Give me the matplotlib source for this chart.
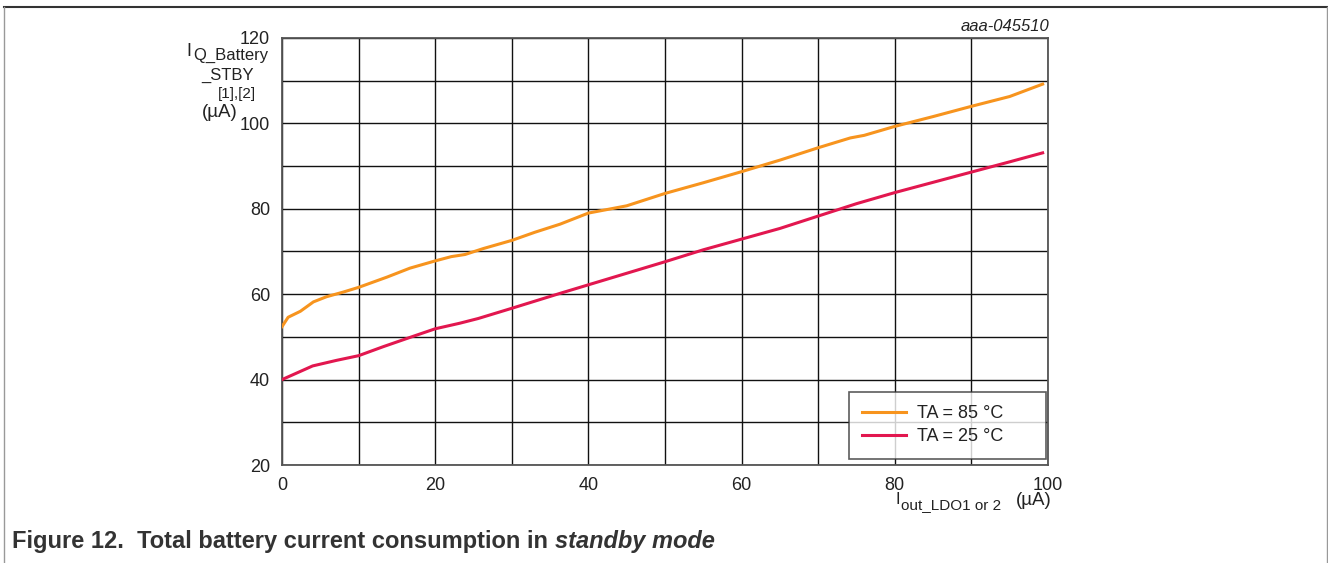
import matplotlib
matplotlib.use("Agg")
import matplotlib.pyplot as plt
from matplotlib.lines import Line2D

plt.rcParams['font.family'] = ['Liberation Sans', 'DejaVu Sans']

# standby current vs LDO output current, two temperatures
x_85 = [0, 0.8, 2.4, 4.1, 5.8, 8, 10, 13.7, 16.7, 20, 22.1, 23.9, 26.3, 30, 33,
        36.3, 40, 45, 50, 55, 60, 65, 70, 74.2, 76, 80, 85, 90, 95, 99.3]
y_85 = [52.4, 54.6, 56.0, 58.2, 59.4, 60.5, 61.6, 64.0, 66.1, 67.8, 68.8, 69.3,
        70.7, 72.6, 74.5, 76.4, 79.0, 80.7, 83.6, 86.1, 88.7, 91.4, 94.3, 96.6,
        97.2, 99.3, 101.6, 104.0, 106.3, 109.2]

x_25 = [0, 4, 7.1, 10, 13.2, 16.9, 20, 23.2, 25.6, 30, 36.3, 40, 45, 50, 55, 60,
        65, 70, 75, 80, 85, 90, 95, 99.3]
y_25 = [40.0, 43.2, 44.5, 45.6, 47.7, 50.0, 51.9, 53.2, 54.3, 56.7, 60.2, 62.2,
        64.9, 67.6, 70.4, 72.9, 75.4, 78.3, 81.2, 83.8, 86.2, 88.6, 91.0, 93.1]

x_ticks = [0, 20, 40, 60, 80, 100]
y_ticks = [20, 40, 60, 80, 100, 120]

W, H = 1328, 563
TXT = '#222222'
fig = plt.figure(figsize=(W / 100, H / 100), dpi=100)
ax = fig.add_axes([282 / W, 1 - 465 / H, (1048 - 282) / W, (465 - 38) / H])

ax.plot(x_85, y_85, color='#F7941E', lw=2.2, label='TA = 85 °C', zorder=3)
ax.plot(x_25, y_25, color='#E2174F', lw=2.2, label='TA = 25 °C', zorder=3)

ax.set_xlim(0, 100)
ax.set_ylim(20, 120)
ax.set_xticks(x_ticks)
ax.set_yticks(y_ticks)
ax.set_xticks(range(0, 101, 10), minor=True)
ax.set_yticks(range(20, 121, 10), minor=True)
ax.grid(True, which='both', color='#111111', lw=1)
ax.tick_params(which='both', length=0, labelsize=13, colors=TXT, pad=8.5)
for s in ax.spines.values():
    s.set_color('#555555')
    s.set_linewidth(1.3)

# legend box stretched to the right, entries kept on the left
leg = ax.legend(loc='lower left', bbox_to_anchor=(0.740, 0.014, 0.258, 0),
                mode='expand', fontsize=13, frameon=True, fancybox=False,
                handlelength=2.4, borderpad=0.75, labelspacing=0.35,
                handletextpad=0.6, borderaxespad=0)
leg.get_frame().set_edgecolor('#333333')
leg.get_frame().set_linewidth(1.2)
for t in leg.get_texts():
    t.set_color(TXT)

def px(x, y):
    return x / W, 1 - y / H

# y axis label, stacked
fig.text(*px(186, 56), 'I', fontsize=13, color=TXT, va='baseline')
fig.text(*px(268, 60), 'Q_Battery', fontsize=12, color=TXT, ha='right', va='baseline')
fig.text(*px(254, 80), '_STBY', fontsize=12, color=TXT, ha='right', va='baseline')
fig.text(*px(256, 98), '[1],[2]', fontsize=11, color=TXT, ha='right', va='baseline')
fig.text(*px(238, 117), '(µA)', fontsize=13.5, color=TXT, ha='right', va='baseline')

# x axis label
fig.text(*px(896, 504), 'I', fontsize=12, color=TXT, va='baseline')
fig.text(*px(901, 509), 'out_LDO1 or 2', fontsize=11, color=TXT, va='baseline')
fig.text(*px(1052, 505), '(µA)', fontsize=13.5, color=TXT, ha='right', va='baseline')

fig.text(*px(1049, 31), 'aaa-045510', fontsize=12, style='italic',
         color=TXT, ha='right', va='baseline')

# caption
cap = fig.text(*px(12, 548), 'Figure 12.  Total battery current consumption in ',
               fontsize=17, weight='bold', color='#333333', va='baseline')
fig.canvas.draw()
bb = cap.get_window_extent()
fig.text(bb.x1 / W, 1 - 548 / H, 'standby mode', fontsize=17, weight='bold',
         style='italic', color='#333333', va='baseline')

# page frame
fig.add_artist(Line2D([4 / W, 1327 / W], [1 - 7 / H, 1 - 7 / H], color='#333333', lw=1.5))
fig.add_artist(Line2D([4 / W, 4 / W], [0, 1 - 7 / H], color='#999999', lw=1))
fig.add_artist(Line2D([1326.5 / W, 1326.5 / W], [0, 1 - 7 / H], color='#999999', lw=1))

fig.savefig('out.png', dpi=100)
